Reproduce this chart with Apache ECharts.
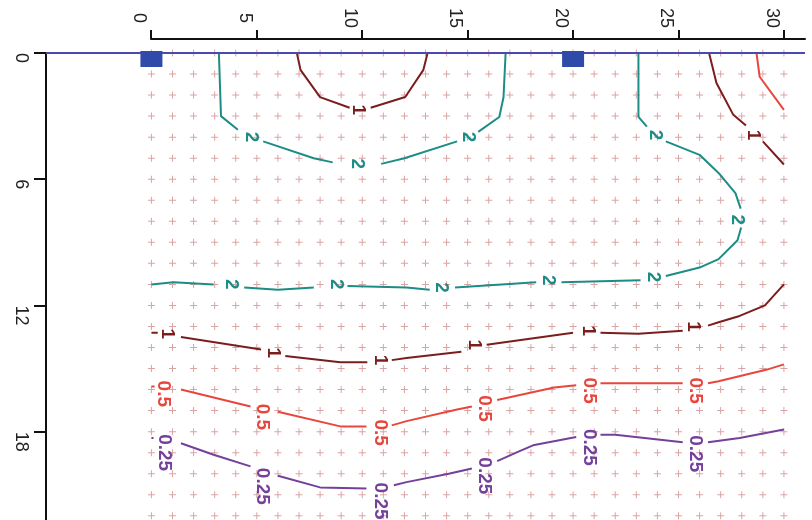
<!DOCTYPE html>
<html><head><meta charset="utf-8">
<script src="https://cdn.jsdelivr.net/npm/echarts@6/dist/echarts.min.js"></script>
<style>html,body{margin:0;padding:0;background:#fff}#c{width:812px;height:520px}</style>
</head><body><div id="c"></div>
<script>
// ---- tick labels ----
const xTicks = [0, 5, 10, 15, 20, 25, 30];
const yTicks = [0, 6, 12, 18];
// ---- sampling grid (+ markers) ----
const gridXs = [0,1,2,3,4,5,6,7,8,9,10,11,12,13,14,15,16,17,18,19,20,21,22,23,24,25,26,27,28,29,30];
const gridYs = [0,1,2,3,4,5,6,7,8,9,10,11,12,13,14,15,16,17,18,19,20,21,22];
// ---- stations (blue squares) ----
const stations = [[0, 0], [20, 0]];
// ---- contour lines (segments broken at labels) ----
const c2TopLeft = [
  [[3.2,0],[3.25,1.5],[3.3,3.0],[4.1,3.65]],
  [[5.3,4.2],[7.7,5.0],[8.6,5.2]],
  [[10.9,5.27],[12.0,5.0],[14.5,4.2]],
  [[15.5,3.75],[16.5,3.04],[16.7,2.1],[16.8,0]]
];
const c2Right = [
  [[23.1,0],[23.1,3.04],[23.5,3.5]],
  [[24.4,4.2],[26.0,4.84],[26.9,5.7],[27.7,6.66],[27.95,7.4]],
  [[27.97,8.3],[27.8,8.9],[26.9,9.8],[26.0,10.2],[24.4,10.6]],
  [[23.2,10.8],[19.45,10.9]],
  [[18.25,10.9],[14.4,11.15]],
  [[13.2,11.25],[12.1,11.15],[9.3,11.08]],
  [[7.7,11.15],[6.0,11.25],[4.4,11.15]],
  [[2.95,11.0],[1.05,10.9],[0,11.0]]
];
const c1TopMid = [
  [[6.9,0],[7.07,0.8],[8.0,2.1],[9.4,2.6]],
  [[10.4,2.6],[12.04,2.09],[12.9,0.8],[13.1,0]]
];
const c1TopRight = [
  [[26.45,0],[26.8,1.43],[27.6,2.94],[28.2,3.45]],
  [[29.0,4.2],[30.0,5.3]]
];
const c1Bottom = [
  [[0,13.3],[0.3,13.3]],
  [[1.4,13.5],[5.2,14.1]],
  [[6.35,14.4],[8.96,14.7],[10.24,14.7]],
  [[11.4,14.6],[12.1,14.5],[14.7,14.2]],
  [[15.9,13.87],[20.0,13.3]],
  [[21.3,13.3],[23.1,13.35],[25.2,13.2]],
  [[26.4,12.96],[26.9,12.8],[27.9,12.5],[29.1,12.0],[30.0,11.0]]
];
const c05TopRight = [
  [[28.7,0],[28.85,1.13],[30.0,2.7]]
];
const c05Bottom = [
  [[0,15.85],[0.15,15.85]],
  [[1.4,16.0],[4.7,16.8]],
  [[6.0,17.05],[8.96,17.75],[10.2,17.75]],
  [[11.4,17.7],[12.1,17.5],[14.5,16.95],[15.2,16.8]],
  [[16.4,16.5],[19.1,15.9],[20.15,15.8]],
  [[21.3,15.7],[25.2,15.7]],
  [[26.4,15.7],[26.9,15.6],[29.2,15.05],[30.0,14.8]]
];
const c025Bottom = [
  [[0,18.3],[0.1,18.3]],
  [[1.4,18.55],[2.95,19.1],[4.7,19.65]],
  [[6.0,20.1],[8.0,20.65],[10.2,20.7]],
  [[11.5,20.55],[12.1,20.4],[14.1,20.0],[15.2,19.75]],
  [[16.4,19.4],[17.3,19.0],[18.1,18.65],[20.15,18.25]],
  [[21.3,18.15],[22.0,18.15],[25.2,18.5]],
  [[26.4,18.5],[27.9,18.3],[30.0,17.9]]
];
// ---- contour label positions ----
const lab2 = [[4.75,4.0],[9.77,5.27],[15.05,4.0],[23.9,3.9],[27.8,7.93],[23.8,10.65],[18.8,10.8],[13.75,11.15],[8.77,11.0],[3.8,11.0]];
const lab1 = [[9.8,2.7],[28.55,3.9],[0.75,13.35],[5.8,14.25],[10.86,14.6],[15.3,13.87],[20.7,13.2],[25.7,13.0]];
const lab05 = [[0.57,16.2],[5.25,17.3],[10.85,18.05],[15.8,16.9],[20.75,16.05],[25.8,16.05]];
const lab025 = [[0.62,19.0],[5.27,20.6],[10.85,21.3],[15.8,20.1],[20.75,18.75],[25.8,19.05]];

const COL2 = '#1e8c86', COL1 = '#7c1d1d', COL05 = '#e8463c', COL025 = '#74409a';

function joinSegs(segs) {
  const out = [];
  segs.forEach((s, i) => { if (i) out.push(['-', '-']); s.forEach(p => out.push(p)); });
  return out;
}
function contour(segs, color) {
  return { type: 'line', xAxisIndex: 0, yAxisIndex: 0, data: joinSegs(segs), symbol: 'none',
    connectNulls: false, lineStyle: { color: color, width: 2 }, silent: true, z: 3, animation: false };
}
function labels(pts, text, color) {
  return { type: 'scatter', xAxisIndex: 0, yAxisIndex: 0, data: pts, symbolSize: 1,
    itemStyle: { color: 'rgba(0,0,0,0)', opacity: 1 }, silent: true, z: 4, animation: false,
    label: { show: true, position: 'inside', formatter: text, rotate: -90, color: color,
      fontSize: 19, fontWeight: 'bold', fontFamily: 'Liberation Sans', align: 'center', verticalAlign: 'middle' } };
}

const gridPts = [];
gridXs.forEach(x => gridYs.forEach(y => gridPts.push([x, y])));

const axisFont = { fontSize: 18, color: '#222', fontFamily: 'Liberation Sans' };

const option = {
  backgroundColor: '#fff',
  animation: false,
  grid: [
    { left: 46, right: 7, top: 53, bottom: 0 },
    { left: 151, right: 7, top: 39, height: 1 }
  ],
  xAxis: [
    { gridIndex: 0, type: 'value', min: -5, max: 31, show: false },
    { gridIndex: 1, type: 'value', min: 0, max: 31, position: 'top',
      axisLine: { show: true, onZero: false, lineStyle: { color: '#111', width: 2 } },
      axisTick: { show: true, length: 9, customValues: xTicks, lineStyle: { color: '#111', width: 2 } },
      axisLabel: { show: false },
      splitLine: { show: false } }
  ],
  yAxis: [
    { gridIndex: 0, type: 'value', inverse: true, min: 0, max: 22.2, position: 'left',
      axisLine: { show: true, onZero: false, lineStyle: { color: '#111', width: 2 } },
      axisTick: { show: true, length: 12, customValues: yTicks, lineStyle: { color: '#111', width: 2 } },
      axisLabel: Object.assign({ customValues: yTicks, rotate: -90, margin: 16, align: 'left',
        verticalAlign: 'top' }, axisFont),
      splitLine: { show: false } },
    { gridIndex: 1, type: 'value', show: false, min: 0, max: 1 }
  ],
  series: [
    { type: 'scatter', xAxisIndex: 0, yAxisIndex: 0, data: gridPts, silent: true, z: 1,
      symbol: 'path://M3,0H4V3H7V4H4V7H3V4H0V3H3Z', symbolSize: 7,
      itemStyle: { color: '#dba4a4', opacity: 1 } },
    contour(c2TopLeft, COL2), contour(c2Right, COL2),
    contour(c1TopMid, COL1), contour(c1TopRight, COL1), contour(c1Bottom, COL1),
    contour(c05TopRight, COL05), contour(c05Bottom, COL05),
    contour(c025Bottom, COL025),
    labels(lab2, '2', COL2), labels(lab1, '1', COL1), labels(lab05, '0.5', COL05), labels(lab025, '0.25', COL025),
    // x tick labels (top axis), rotated clockwise like the reference
    { type: 'scatter', xAxisIndex: 1, yAxisIndex: 1, data: xTicks.map(v => [v, 0]), symbolSize: 1,
      itemStyle: { color: 'rgba(0,0,0,0)', opacity: 1 }, silent: true, clip: false, z: 5,
      label: Object.assign({ show: true, position: 'inside', formatter: p => String(p.value[0]),
        rotate: -90, offset: [-22, 12], align: 'center', verticalAlign: 'middle' }, axisFont) },
    { type: 'scatter', xAxisIndex: 0, yAxisIndex: 0, data: stations, symbol: 'rect', symbolSize: [22, 16],
      symbolOffset: [0, 6], itemStyle: { color: '#2f4aa8', opacity: 1 }, z: 6, silent: true, clip: false,
      markLine: { silent: true, symbol: ['none', 'none'], label: { show: false },
        lineStyle: { color: '#4a4aae', width: 2, type: 'solid' }, data: [{ yAxis: 0 }] } }
  ]
};
const chart = echarts.init(document.getElementById('c'), null, { renderer: 'canvas' });
chart.setOption(option);
</script></body></html>
